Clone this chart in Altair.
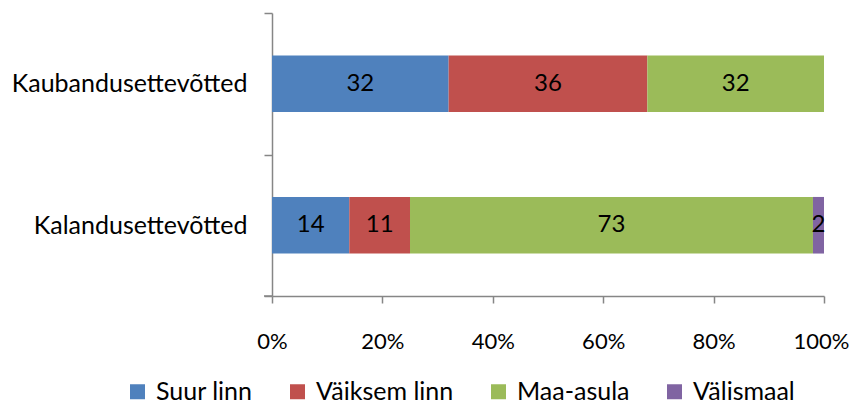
import altair as alt
import pandas as pd

categories = ["Kaubandusettevõtted", "Kalandusettevõtted"]
series = ["Suur linn", "Väiksem linn", "Maa-asula", "Välismaal"]
kaubandus = [32, 36, 32, 0]
kalandus = [14, 11, 73, 2]
colors = ["#4F81BD", "#C0504D", "#9BBB59", "#8064A2"]
x_ticks = [0, 0.2, 0.4, 0.6, 0.8, 1.0]

rows = []
for cat, vals in zip(categories, [kaubandus, kalandus]):
    for i, (s, v) in enumerate(zip(series, vals)):
        rows.append({"category": cat, "series": s, "value": v, "order": i})
df = pd.DataFrame(rows)

FONT = "Lato"
W, H = 552, 283
PAD_L, PAD_T = 264, 5
PAD_R = 841 - PAD_L - W
PAD_B = 400 - PAD_T - H
AX = "#868686"

base = alt.Chart(df).transform_stack(
    stack="value", groupby=["category"], as_=["v0", "v1"], offset="normalize",
    sort=[alt.SortField("order", order="ascending")]
).transform_calculate(mid="(datum.v0 + datum.v1) / 2")

yenc = alt.Y("category:N", sort=categories, title=None,
             scale=alt.Scale(paddingInner=0, paddingOuter=0),
             axis=alt.Axis(tickBand="extent", domainColor=AX, tickColor=AX,
                           tickSize=8, labelPadding=17, labelFont=FONT,
                           labelFontSize=25, labelColor="black", domainWidth=1.5,
                           tickWidth=1.5, labelLimit=400))

xscale = alt.Scale(domain=[0, 1], nice=False)

bars = base.mark_bar(height=alt.RelativeBandSize(0.4)).encode(
    y=yenc,
    x=alt.X("v0:Q", scale=xscale, title=None,
            axis=alt.Axis(values=x_ticks, format=".0%", grid=False,
                          domainColor=AX, tickColor=AX, tickSize=7,
                          domainWidth=1.5, tickWidth=1.5,
                          labelPadding=28, labelFont=FONT, labelFontSize=22,
                          labelOffset={"condition": {"test": "datum.value == 1", "value": -3}, "value": 0},
                          labelColor="black", labelFlush=False)),
    x2="v1:Q",
    color=alt.Color("series:N", sort=series,
                    scale=alt.Scale(domain=series, range=colors),
                    legend=alt.Legend(title=None, orient="none", direction="horizontal",
                                      legendX=-147, legendY=366,
                                      symbolType="square", symbolSize=225,
                                      symbolStrokeWidth=0, labelFont=FONT,
                                      labelFontSize=25, labelColor="black",
                                      labelOffset=6, columnPadding=32,
                                      labelLimit=400)),
)

labels = base.transform_filter("datum.value > 0").mark_text(
    font=FONT, fontSize=24, color="black", baseline="middle", align="center"
).encode(
    y=alt.Y("category:N", sort=categories, title=None),
    x=alt.X("mid:Q", scale=xscale, title=None),
    text=alt.Text("value:Q"),
)

bottom_tick = alt.Chart(pd.DataFrame({"a": [0]})).mark_rule(color=AX, strokeWidth=1.5).encode(
    x=alt.value(-8), x2=alt.value(0), y=alt.value(H)
)

chart = alt.layer(bars, labels, bottom_tick).properties(
    width=W, height=H,
    padding={"left": PAD_L, "top": PAD_T, "right": PAD_R, "bottom": PAD_B},
    autosize=alt.AutoSizeParams(type="none"),
).configure_view(stroke=None)

chart.save("out.html", embed_options={"renderer": "svg", "actions": False})
